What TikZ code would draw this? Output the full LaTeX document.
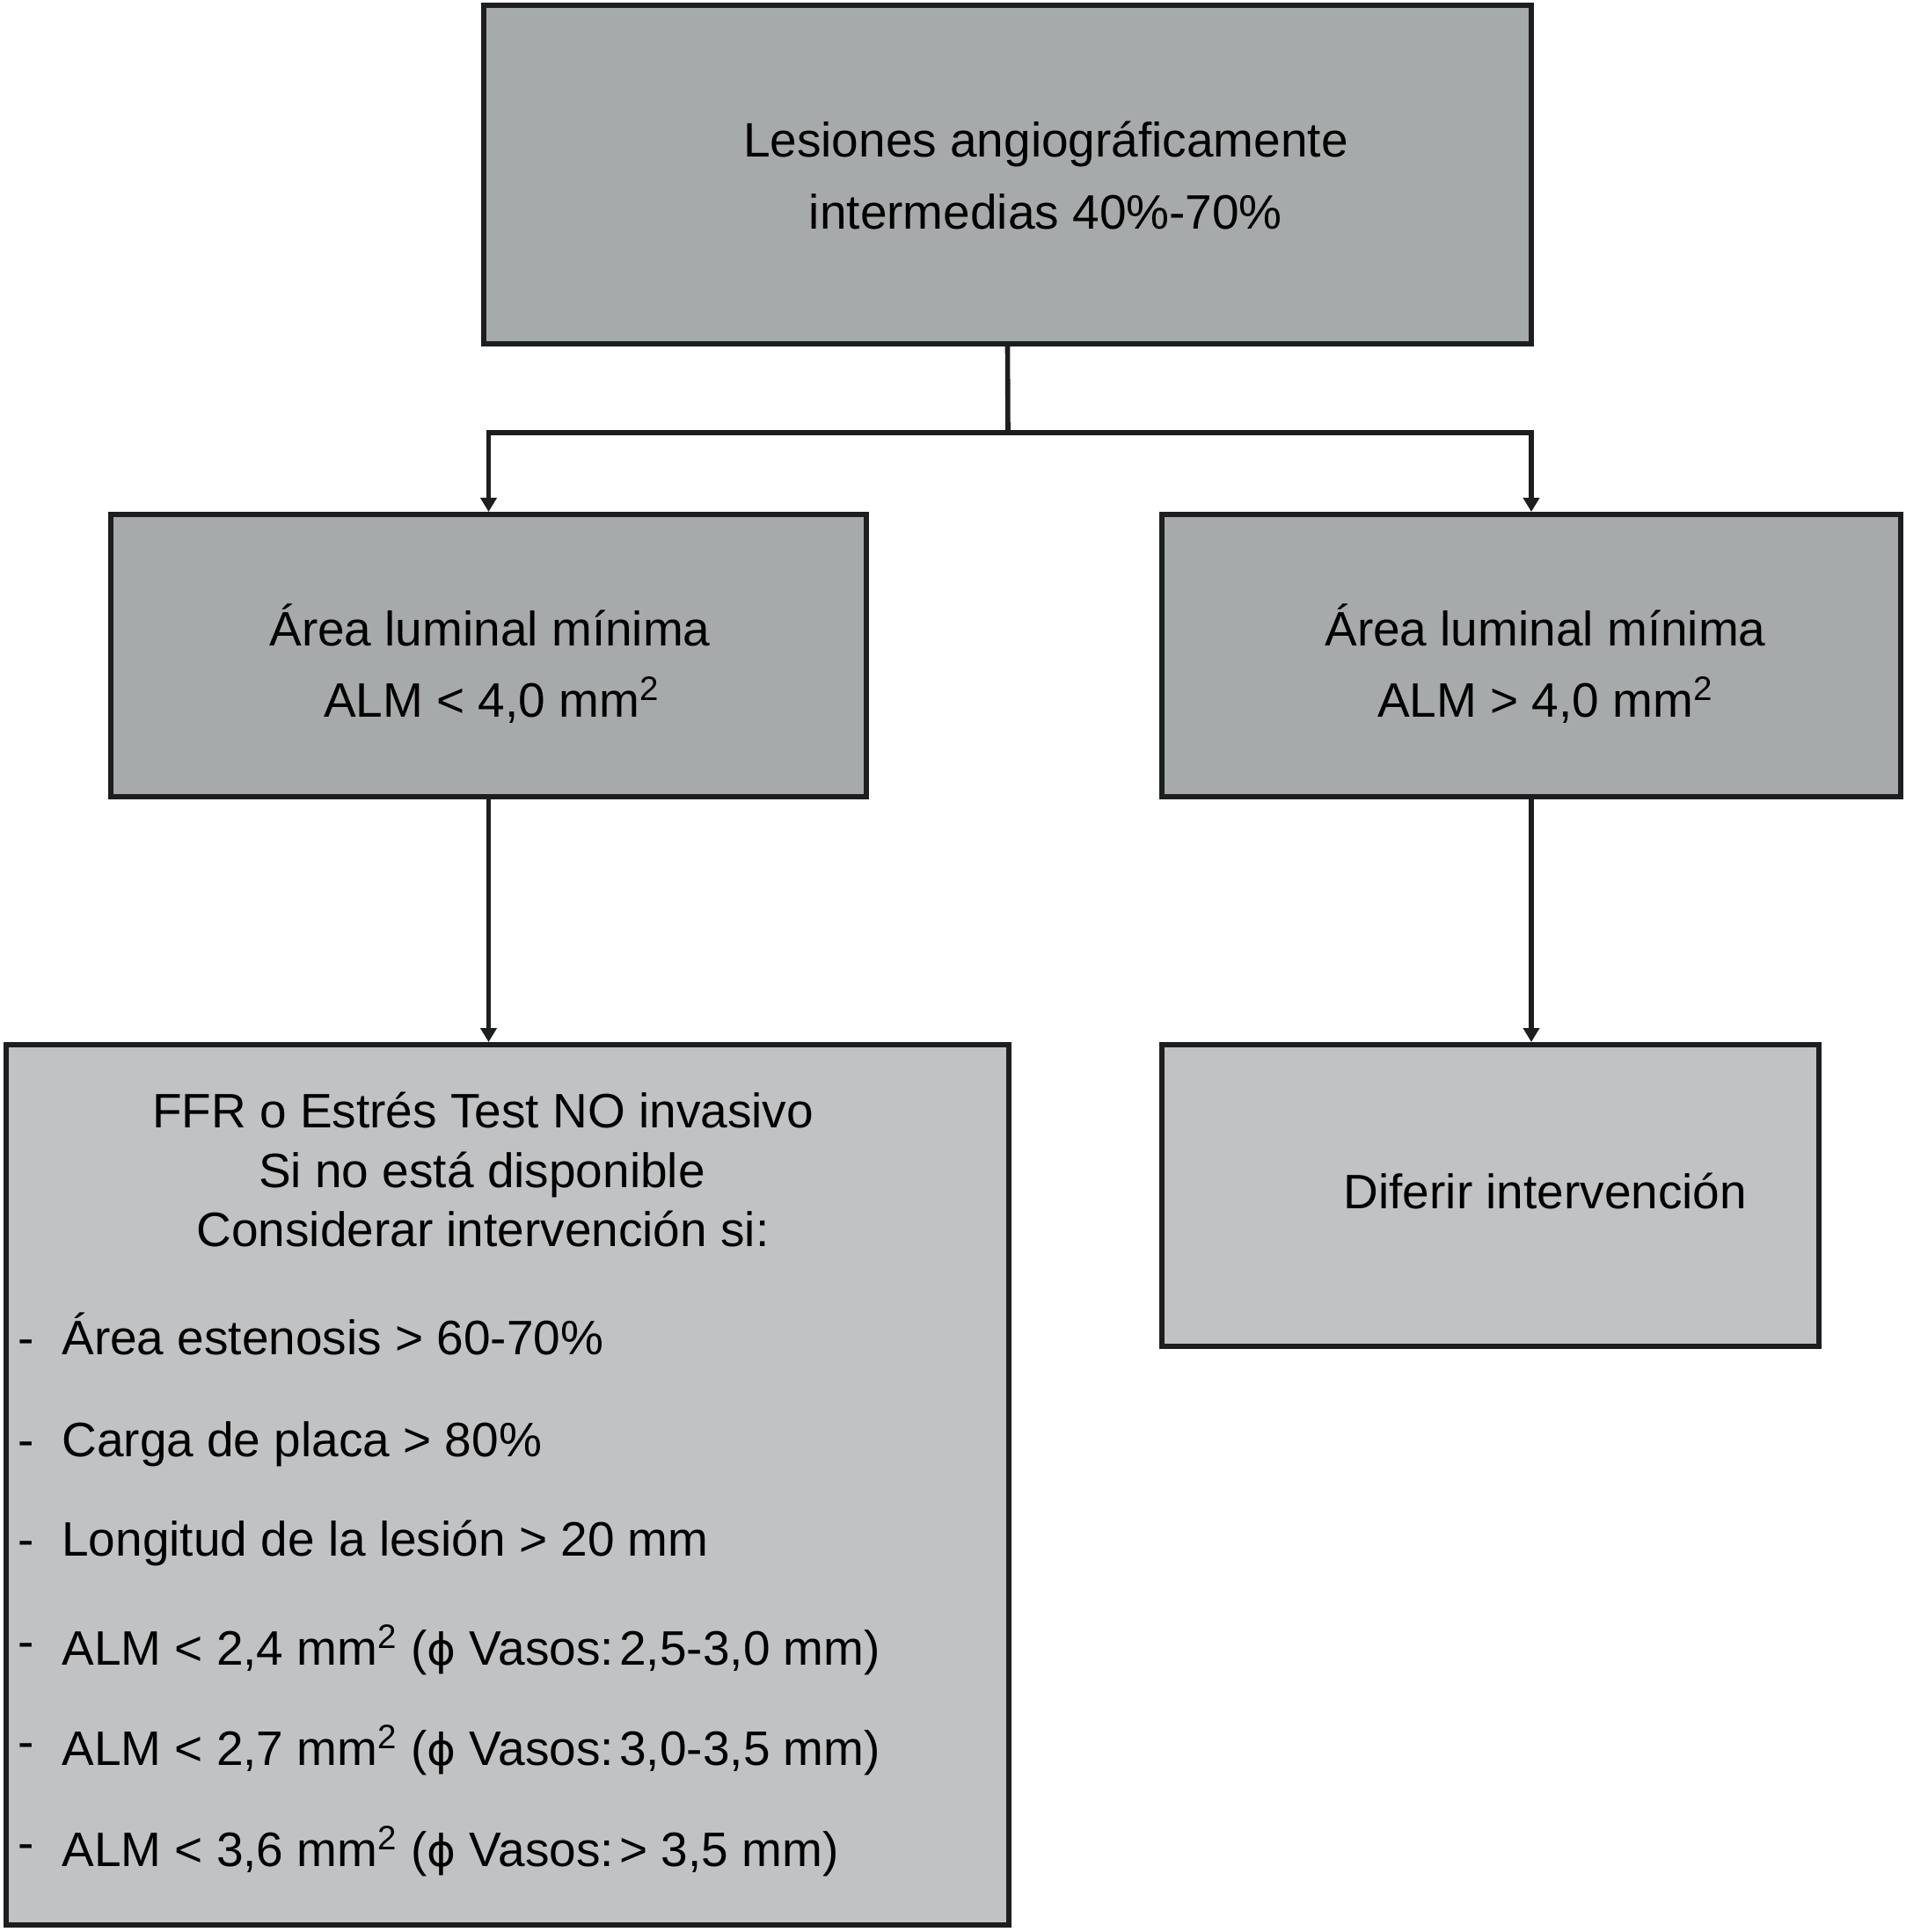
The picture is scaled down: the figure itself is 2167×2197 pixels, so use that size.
\documentclass[tikz,border=0pt]{standalone}
\usepackage{fontspec}
\setmainfont{Liberation Sans}
\newfontfamily\phifont{DejaVu Sans}
\usetikzlibrary{arrows.meta,fit}
\definecolor{darkfill}{HTML}{A7AAAB}
\definecolor{lightfill}{HTML}{C1C2C4}
\definecolor{edgecol}{HTML}{1C1E20}
\newcommand{\diam}{{\phifont\fontsize{25}{42}\selectfont ϕ}}
\begin{document}
\begin{tikzpicture}[x=0.5pt,y=-0.5pt,
  font=\fontsize{27.5}{42}\selectfont,
  box/.style={draw=edgecol, line width=3pt, inner sep=0pt, rectangle},
  darkbox/.style={box, fill=darkfill},
  lightbox/.style={box, fill=lightfill},
  conn/.style={draw=edgecol, line width=2.8pt},
  arr/.style={conn, -{Triangle[width=9pt,length=8pt]}},
  txt/.style={anchor=base, inner sep=0pt},
  ltxt/.style={anchor=base west, inner sep=0pt}]
\useasboundingbox (0,0) rectangle (2167,2197);
\fill[white] (0,0) rectangle (2167,2197);

% boxes
\node[darkbox, fit={(550,6) (1741,391)}] (top) {};
\node[darkbox, fit={(126,585) (985,906)}] (midL) {};
\node[darkbox, fit={(1321,585) (2161,906)}] (midR) {};
\node[lightbox, fit={(7,1188) (1147,2189)}] (botL) {};
\node[lightbox, fit={(1321,1188) (2068,1531)}] (botR) {};

% connectors
\coordinate (junc) at (1146,492);
\draw[conn] (top.south) -- (junc);
\draw[arr] (junc) -| (midL.north);
\draw[arr] (junc) -| (midR.north);
\draw[arr] (midL.south) -- (midL.south |- botL.north);
\draw[arr] (midR.south) -- (midR.south |- botR.north);

% texts
\node[txt] (t1) at (1189,178) {Lesiones angiográficamente};
\node[txt] (t2) at (1189,260) {intermedias 40\%-70\%};

\node[txt] (ml1) at (557,734) {Área luminal mínima};
\node[txt] (ml2) at (559,815) {ALM < 4,0 mm\textsuperscript{2}};
\node[txt] (mr1) at (1757,734) {Área luminal mínima};
\node[txt] (mr2) at (1757,815) {ALM > 4,0 mm\textsuperscript{2}};

\node[txt] (bl1) at (549,1282) {FFR o Estrés Test NO invasivo};
\node[txt] (bl2) at (548,1350) {Si no está disponible};
\node[txt] (bl3) at (549,1417) {Considerar intervención si:};

\node[txt] (d1) at (30,1540) {-};
\node[ltxt] (i1) at (70,1540) {Área estenosis > 60-70\%};
\node[txt] (d2) at (30,1656) {-};
\node[ltxt] (i2) at (70,1656) {Carga de placa > 80\%};
\node[txt] (d3) at (30,1769) {-};
\node[ltxt] (i3) at (70,1769) {Longitud de la lesión > 20 mm};
\node[txt] (d4) at (30,1885) {-};
\node[ltxt] (i4) at (70,1893) {ALM < 2,4 mm\textsuperscript{2} (\diam\ Vasos:\hspace{0.12em}2,5-3,0 mm)};
\node[txt] (d5) at (30,1999) {-};
\node[ltxt] (i5) at (70,2007) {ALM < 2,7 mm\textsuperscript{2} (\diam\ Vasos:\hspace{0.12em}3,0-3,5 mm)};
\node[txt] (d6) at (30,2114) {-};
\node[ltxt] (i6) at (70,2122) {ALM < 3,6 mm\textsuperscript{2} (\diam\ Vasos:\hspace{0.12em}> 3,5 mm)};

\node[txt] (br1) at (1757,1374) {Diferir intervención};
\end{tikzpicture}
\end{document}
